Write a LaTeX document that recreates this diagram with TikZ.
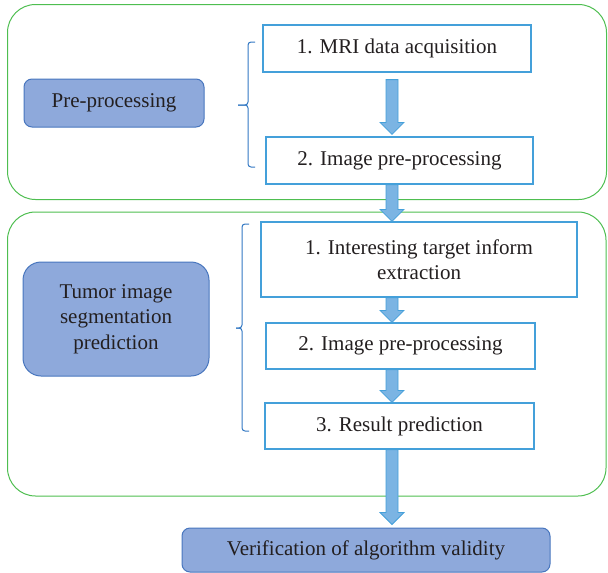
\documentclass[tikz,border=0pt]{standalone}
\usepackage{fontspec}
\setmainfont{Liberation Serif}
\usetikzlibrary{calc}

\definecolor{groupgreen}{RGB}{78,190,80}
\definecolor{stepblue}{RGB}{68,160,218}
\definecolor{arrowfill}{RGB}{123,180,227}
\definecolor{stagefill}{RGB}{142,169,219}
\definecolor{stageline}{RGB}{72,118,190}
\definecolor{bracecol}{RGB}{50,120,195}
\definecolor{inktext}{RGB}{35,31,32}

\tikzset{
  group/.style={draw=groupgreen, line width=1pt, rounded corners=28pt},
  stepbox/.style={draw=stepblue, line width=1.2pt, fill=white, align=center, inner sep=0pt},
  stage/.style={draw=stageline, fill=stagefill, line width=1pt, rounded corners=8pt, align=center, inner sep=0pt},
  arrowbody/.style={draw=stepblue, fill=arrowfill, line width=0.8pt},
  stagebrace/.style={draw=bracecol, line width=1pt, rounded corners=3pt},
}

% block arrow pointing down, from #1 to #2
\newcommand{\blockarrow}[2]{%
  \draw[arrowbody] let \p1=(#1), \p2=(#2) in
    (\x1-6pt,\y1) -- (\x1+6pt,\y1) -- (\x1+6pt,\y2+12pt) -- (\x1+12pt,\y2+12pt)
    -- (\x1,\y2) -- (\x1-12pt,\y2+12pt) -- (\x1-6pt,\y2+12pt) -- cycle;}

\begin{document}
\begin{tikzpicture}[x=1pt, y=-1pt, font=\fontsize{21}{25.5}\selectfont, text=inktext]
  \useasboundingbox (0,0) rectangle (608,573);
  \coordinate (axis) at (392,0);

  % Groups
  \draw[group] (7.5,4.5) rectangle (606.5,199.5);
  \draw[group] (7.5,212) rectangle (606,496);

  % Stages on the left
  \node[stage, minimum width=180pt, minimum height=48pt] (pre) at (114,103) {Pre-processing};
  \node[stage, rounded corners=18pt, minimum width=186pt, minimum height=114pt] (tumor) at (116,319)
    {Tumor image\\segmentation\\prediction};
  \node[stage, minimum width=368pt, minimum height=44pt] (verif) at (366,550)
    {Verification of algorithm validity};

  % Steps
  \node[stepbox, minimum width=268pt, minimum height=47pt] (b1) at (397,48.5) {1. MRI data acquisition};
  \node[stepbox, minimum width=267pt, minimum height=47pt] (b2) at (399.5,160.5) {2. Image pre-processing};
  \node[stepbox, minimum width=316pt, minimum height=75pt] (b3) at (419,259.5)
    {1. Interesting target inform\\extraction};
  \node[stepbox, minimum width=269pt, minimum height=46pt] (b4) at (400.5,346) {2. Image pre-processing};
  \node[stepbox, minimum width=269pt, minimum height=46pt] (b5) at (399.5,426) {3. Result prediction};

  % Braces
  \draw[stagebrace] (255,42) -- (248,42) -- (248,105) -- (238,105);
  \draw[stagebrace] (238,105) -- (248,105) -- (248,167) -- (255,167);
  \draw[stagebrace] (249,224) -- (242,224) -- (242,328) -- (236,328);
  \draw[stagebrace] (236,328) -- (242,328) -- (242,431) -- (249,431);

  % Arrows
  \blockarrow{$(b1.south -| axis)+(0,7)$}{$(b2.north -| axis)+(0,-2)$}
  \blockarrow{b2.south -| axis}{b3.north -| axis}
  \blockarrow{b3.south -| axis}{b4.north -| axis}
  \blockarrow{b4.south -| axis}{b5.north -| axis}
  \blockarrow{b5.south -| axis}{$(verif.north -| axis)+(0,-3)$}
\end{tikzpicture}
\end{document}
